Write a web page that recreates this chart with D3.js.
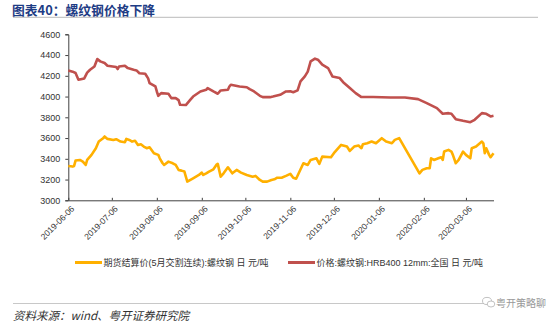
<!DOCTYPE html>
<html>
<head>
<meta charset="utf-8">
<script src="https://cdn.jsdelivr.net/npm/d3@7"></script>
<style>
  html, body { margin: 0; padding: 0; background: #fff; }
  svg { display: block; font-family: "Liberation Sans", Arial, "Noto Sans CJK SC", sans-serif; }
</style>
</head>
<body>
<svg id="chart" width="550" height="328"></svg>
<script>
// Rebar futures settlement price (continuous May contract), CNY/tonne
const futuresSeries = [
  ["2019-06-06", 3331], ["2019-06-09", 3325], ["2019-06-10", 3331], ["2019-06-11", 3383],
  ["2019-06-14", 3389], ["2019-06-16", 3373], ["2019-06-18", 3341], ["2019-06-19", 3389],
  ["2019-06-22", 3438], ["2019-06-25", 3502], ["2019-06-27", 3566], ["2019-06-30", 3599],
  ["2019-07-01", 3615], ["2019-07-03", 3592], ["2019-07-07", 3582], ["2019-07-09", 3589],
  ["2019-07-12", 3566], ["2019-07-15", 3560], ["2019-07-16", 3592], ["2019-07-18", 3582],
  ["2019-07-20", 3566], ["2019-07-22", 3573], ["2019-07-24", 3534], ["2019-07-26", 3540],
  ["2019-07-28", 3518], ["2019-07-30", 3502], ["2019-08-01", 3511], ["2019-08-04", 3454],
  ["2019-08-07", 3438], ["2019-08-08", 3405], ["2019-08-10", 3357], ["2019-08-11", 3341],
  ["2019-08-14", 3373], ["2019-08-17", 3357], ["2019-08-19", 3341], ["2019-08-21", 3293],
  ["2019-08-23", 3286], ["2019-08-25", 3277], ["2019-08-26", 3228], ["2019-08-27", 3180],
  ["2019-08-31", 3212], ["2019-09-04", 3244], ["2019-09-06", 3267], ["2019-09-07", 3244],
  ["2019-09-09", 3260], ["2019-09-11", 3277], ["2019-09-14", 3299], ["2019-09-16", 3341],
  ["2019-09-17", 3351], ["2019-09-19", 3228], ["2019-09-21", 3260], ["2019-09-24", 3318],
  ["2019-09-27", 3260], ["2019-09-30", 3293], ["2019-10-03", 3267], ["2019-10-07", 3244],
  ["2019-10-11", 3228], ["2019-10-13", 3235], ["2019-10-16", 3196], ["2019-10-18", 3180],
  ["2019-10-21", 3180], ["2019-10-24", 3196], ["2019-10-26", 3202], ["2019-10-28", 3218],
  ["2019-10-31", 3218], ["2019-11-03", 3235], ["2019-11-06", 3255], ["2019-11-08", 3218],
  ["2019-11-10", 3208], ["2019-11-15", 3357], ["2019-11-18", 3341], ["2019-11-20", 3389],
  ["2019-11-24", 3405], ["2019-11-26", 3351], ["2019-11-28", 3421], ["2019-12-04", 3415],
  ["2019-12-06", 3454], ["2019-12-11", 3534], ["2019-12-15", 3518], ["2019-12-17", 3476],
  ["2019-12-20", 3518], ["2019-12-23", 3528], ["2019-12-25", 3502], ["2019-12-26", 3540],
  ["2019-12-29", 3550], ["2020-01-01", 3566], ["2020-01-04", 3550], ["2020-01-08", 3599],
  ["2020-01-11", 3566], ["2020-01-15", 3550], ["2020-01-17", 3582], ["2020-01-20", 3599],
  ["2020-02-03", 3260], ["2020-02-05", 3293], ["2020-02-08", 3309], ["2020-02-10", 3309],
  ["2020-02-11", 3405], ["2020-02-13", 3389], ["2020-02-16", 3405], ["2020-02-18", 3415],
  ["2020-02-19", 3389], ["2020-02-20", 3470], ["2020-02-23", 3486], ["2020-02-25", 3470],
  ["2020-02-26", 3438], ["2020-02-28", 3357], ["2020-03-01", 3389], ["2020-03-04", 3470],
  ["2020-03-06", 3438], ["2020-03-09", 3405], ["2020-03-10", 3502], ["2020-03-13", 3518],
  ["2020-03-17", 3566], ["2020-03-18", 3550], ["2020-03-19", 3454], ["2020-03-20", 3502],
  ["2020-03-22", 3438], ["2020-03-23", 3415], ["2020-03-25", 3454]
];

// National HRB400 12mm rebar spot price, CNY/tonne
const spotSeries = [
  ["2019-06-06", 4252], ["2019-06-09", 4240], ["2019-06-11", 4227], ["2019-06-13", 4162],
  ["2019-06-17", 4175], ["2019-06-19", 4230], ["2019-06-21", 4258], ["2019-06-24", 4290],
  ["2019-06-26", 4362], ["2019-06-28", 4339], ["2019-07-01", 4323], ["2019-07-03", 4297],
  ["2019-07-09", 4284], ["2019-07-10", 4265], ["2019-07-11", 4290], ["2019-07-15", 4297],
  ["2019-07-17", 4274], ["2019-07-21", 4258], ["2019-07-23", 4252], ["2019-07-25", 4225],
  ["2019-07-29", 4220], ["2019-07-31", 4175], ["2019-08-01", 4130], ["2019-08-05", 4097],
  ["2019-08-06", 4049], ["2019-08-07", 4007], ["2019-08-09", 4033], ["2019-08-14", 4027],
  ["2019-08-16", 3985], ["2019-08-19", 3985], ["2019-08-21", 3965], ["2019-08-22", 3921],
  ["2019-08-26", 3918], ["2019-08-29", 3968], ["2019-08-31", 4000], ["2019-09-05", 4049],
  ["2019-09-09", 4065], ["2019-09-10", 4082], ["2019-09-14", 4049], ["2019-09-17", 4027],
  ["2019-09-19", 4059], ["2019-09-24", 4065], ["2019-09-25", 4097], ["2019-09-26", 4114],
  ["2019-10-02", 4097], ["2019-10-07", 4090], ["2019-10-09", 4071], ["2019-10-12", 4049],
  ["2019-10-16", 4007], ["2019-10-18", 3994], ["2019-10-23", 3994], ["2019-10-25", 4000],
  ["2019-10-30", 4017], ["2019-11-03", 4049], ["2019-11-06", 4050], ["2019-11-08", 4042],
  ["2019-11-11", 4060], ["2019-11-13", 4146], ["2019-11-16", 4194], ["2019-11-18", 4240],
  ["2019-11-20", 4339], ["2019-11-23", 4365], ["2019-11-25", 4355], ["2019-11-28", 4307],
  ["2019-12-02", 4275], ["2019-12-05", 4194], ["2019-12-10", 4178], ["2019-12-13", 4130],
  ["2019-12-17", 4082], ["2019-12-21", 4033], ["2019-12-25", 3995], ["2020-01-02", 3995],
  ["2020-01-14", 3991], ["2020-01-24", 3991], ["2020-02-02", 3975], ["2020-02-08", 3937],
  ["2020-02-15", 3889], ["2020-02-19", 3834], ["2020-02-23", 3840], ["2020-02-25", 3834],
  ["2020-02-28", 3782], ["2020-03-04", 3766], ["2020-03-09", 3753], ["2020-03-12", 3776],
  ["2020-03-17", 3840], ["2020-03-20", 3834], ["2020-03-23", 3808], ["2020-03-25", 3814]
];

const xTickDates = ["2019-06-06", "2019-07-06", "2019-08-06", "2019-09-06", "2019-10-06",
  "2019-11-06", "2019-12-06", "2020-01-06", "2020-02-06", "2020-03-06"];
const yTicks = [3000, 3200, 3400, 3600, 3800, 4000, 4200, 4400, 4600];

const seriesNames = ["期货结算价(5月交割连续):螺纹钢 日 元/吨", "价格:螺纹钢:HRB400 12mm:全国 日 元/吨"];
const seriesColors = ["#FFB000", "#C0504D"];

const titleText = "图表40：螺纹钢价格下降";
const sourceText = "资料来源：wind、粤开证券研究院";
const watermarkText = "粤开策略聊";

const parse = d3.timeParse("%Y-%m-%d");
const svg = d3.select("#chart");

const x = d3.scaleTime()
  .domain([parse("2019-06-06"), parse("2020-03-25")])
  .range([68.3, 493.5]);
const y = d3.scaleLinear().domain([3000, 4600]).range([200.3, 34.3]);

// Title and rule beneath it
svg.append("text").attr("x", 12).attr("y", 14.8)
  .attr("font-size", 12.8).attr("font-weight", "bold").attr("fill", "#1E3C85")
  .attr("font-family", "'Noto Sans CJK SC', sans-serif")
  .text(titleText);
svg.append("line").attr("x1", 13).attr("x2", 538).attr("y1", 17.3).attr("y2", 17.3)
  .attr("stroke", "#c8c8c8").attr("stroke-width", 1.2);

// Y axis
const yAxis = svg.append("g").attr("transform", `translate(${x.range()[0]},0)`)
  .call(d3.axisLeft(y).tickValues(yTicks).tickSize(3).tickPadding(5).tickFormat(d3.format("d")));
yAxis.select(".domain").attr("stroke", "#404040");
yAxis.selectAll(".tick line").attr("stroke", "#404040");
yAxis.selectAll("text").attr("font-size", 9).attr("fill", "#333");

// X axis
const xAxis = svg.append("g").attr("transform", `translate(0,${y(3000)})`)
  .call(d3.axisBottom(x).tickValues(xTickDates.map(parse)).tickSize(0).tickFormat(d3.timeFormat("%Y-%m-%d")));
xAxis.select(".domain").attr("stroke", "#404040");
xAxis.selectAll(".tick").append("line").attr("y1", 0).attr("y2", -2.5).attr("stroke", "#404040");
xAxis.selectAll("text")
  .attr("font-size", 8.5).attr("fill", "#333")
  .attr("text-anchor", "end")
  .attr("dy", 0)
  .attr("transform", "translate(4,7) rotate(-45)");

// Lines
const line = d3.line()
  .x(d => x(parse(d[0])))
  .y(d => y(d[1]));

[futuresSeries, spotSeries].forEach((s, i) => {
  svg.append("path").datum(s)
    .attr("fill", "none")
    .attr("stroke", seriesColors[i])
    .attr("stroke-width", 2.6)
    .attr("stroke-linejoin", "round")
    .attr("d", line);
});

// Legend
const legendItems = [{x: 75, len: 27}, {x: 288, len: 27}];
legendItems.forEach((it, i) => {
  const g = svg.append("g").attr("transform", `translate(${it.x},262.5)`);
  g.append("line").attr("x1", 0).attr("x2", it.len).attr("y1", 0).attr("y2", 0)
    .attr("stroke", seriesColors[i]).attr("stroke-width", 3);
  g.append("text").attr("x", it.len + 1.5).attr("y", 3.2)
    .attr("font-size", 9).attr("fill", "#333").text(seriesNames[i]);
});

// Footer rule, source and watermark
svg.append("line").attr("x1", 13).attr("x2", 484).attr("y1", 303.5).attr("y2", 303.5)
  .attr("stroke", "#c8c8c8").attr("stroke-width", 1.2);
svg.append("text").attr("x", 13).attr("y", 320)
  .attr("font-size", 11.5).attr("font-style", "italic").attr("fill", "#333")
  .attr("font-family", "'Noto Sans CJK SC', sans-serif")
  .text(sourceText);

const wm = svg.append("g").attr("transform", "translate(483,302)");
wm.append("ellipse").attr("cx", 4).attr("cy", -1).attr("rx", 4.5).attr("ry", 3.6)
  .attr("fill", "none").attr("stroke", "#bbb").attr("stroke-width", 0.9);
wm.append("ellipse").attr("cx", 8).attr("cy", 2).attr("rx", 3.8).attr("ry", 3)
  .attr("fill", "#fff").attr("stroke", "#bbb").attr("stroke-width", 0.9);
svg.append("text").attr("x", 546).attr("y", 306.5)
  .attr("text-anchor", "end")
  .attr("font-size", 10).attr("fill", "#999")
  .attr("font-family", "'Noto Sans CJK SC', sans-serif")
  .text(watermarkText);
</script>
</body>
</html>
